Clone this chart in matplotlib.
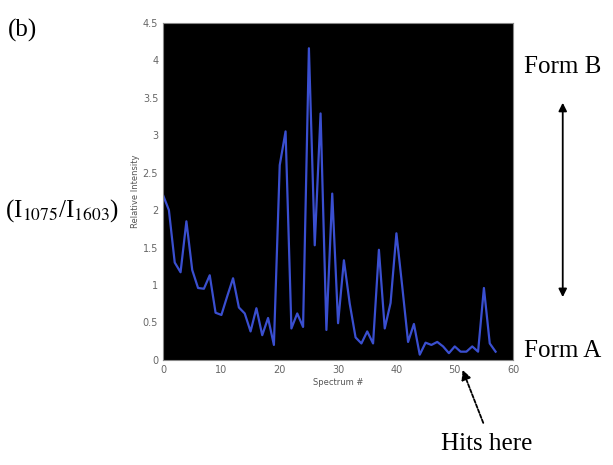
import numpy as np
import matplotlib
matplotlib.use("Agg")
import matplotlib.pyplot as plt

plt.rcParams["mathtext.fontset"] = "stix"

# spectrum index and relative intensity (I1075/I1603)
spectrum = list(range(58))
intensity = [2.2, 2.0, 1.3, 1.17, 1.85, 1.2, 0.96, 0.95, 1.13, 0.63,
             0.6, 0.85, 1.09, 0.7, 0.62, 0.38, 0.69, 0.33, 0.56, 0.2,
             2.6, 3.05, 0.42, 0.62, 0.44, 4.16, 1.53, 3.29, 0.4, 2.22,
             0.49, 1.33, 0.75, 0.3, 0.22, 0.38, 0.22, 1.47, 0.42, 0.76,
             1.69, 0.98, 0.24, 0.48, 0.07, 0.23, 0.2, 0.24, 0.18, 0.09,
             0.18, 0.11, 0.11, 0.18, 0.11, 0.96, 0.22, 0.11]

xticks = [0, 10, 20, 30, 40, 50, 60]
yticks = [0, 0.5, 1, 1.5, 2, 2.5, 3, 3.5, 4, 4.5]

fig = plt.figure(figsize=(6.13, 4.65), dpi=100)
ax = fig.add_axes([0.266, 0.226, 0.571, 0.725])
ax.set_facecolor("black")
ax.plot(spectrum, intensity, color="#3a4fd0", lw=1.6)
ax.set_xlim(0, 60)
ax.set_ylim(0, 4.5)
ax.set_xticks(xticks)
ax.set_yticks(yticks)
ax.set_yticklabels([f"{v:g}" for v in yticks])
ax.tick_params(labelsize=7, colors="#666666", length=0)
for s in ax.spines.values():
    s.set_color("#888888")
ax.set_xlabel("Spectrum #", fontsize=6, color="#555555", labelpad=2)
ax.set_ylabel("Relative Intensity", fontsize=6, color="#555555", labelpad=2)

serif = "Liberation Serif"
fig.text(0.013, 0.935, "(b)", fontsize=18, family=serif, va="center")
fig.text(0.008, 0.548, r"(I$_{\mathrm{1075}}$/I$_{\mathrm{1603}}$)",
         fontsize=18, family=serif, va="center")
fig.text(0.855, 0.855, "Form B", fontsize=18, family=serif, va="center")
fig.text(0.855, 0.245, "Form A", fontsize=18, family=serif, va="center")
fig.text(0.72, 0.045, "Hits here", fontsize=18, family=serif, va="center")

# double arrow between the two forms
fig.patches.append(matplotlib.patches.FancyArrowPatch(
    (0.918, 0.785), (0.918, 0.355), transform=fig.transFigure,
    arrowstyle="<|-|>", mutation_scale=12, color="black", lw=1.3))
# arrow pointing at the hits
fig.patches.append(matplotlib.patches.FancyArrowPatch(
    (0.79, 0.085), (0.753, 0.21), transform=fig.transFigure,
    arrowstyle="-|>", mutation_scale=14, color="black", lw=1.3,
    linestyle=(0, (2, 1))))

fig.savefig("out.png", dpi=100)
